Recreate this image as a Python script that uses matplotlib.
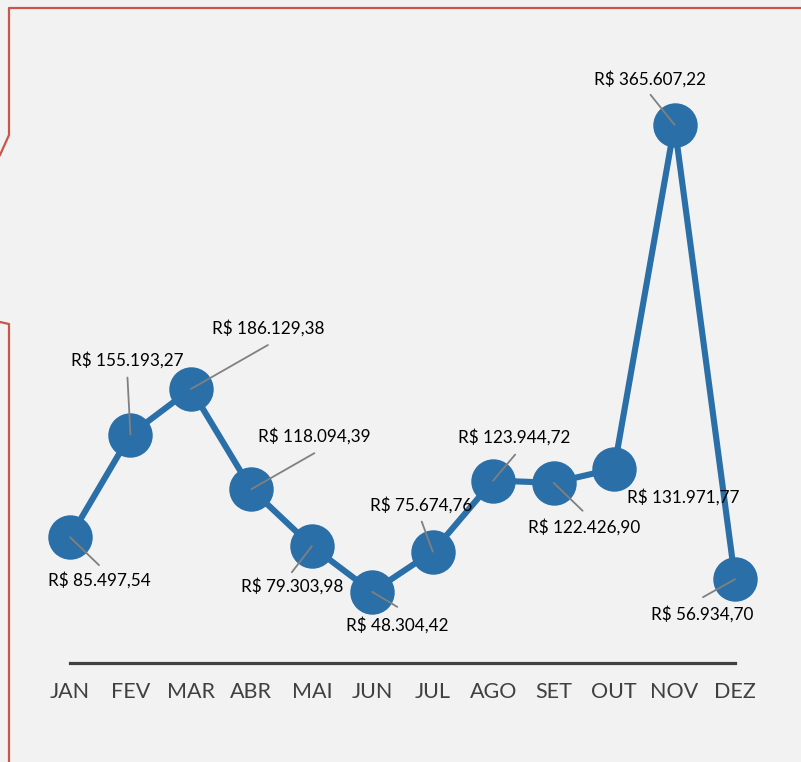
import matplotlib.pyplot as plt
from matplotlib.lines import Line2D

# dados de faturamento mensal
months = ['JAN', 'FEV', 'MAR', 'ABR', 'MAI', 'JUN', 'JUL', 'AGO', 'SET', 'OUT', 'NOV', 'DEZ']
values = [85497.54, 155193.27, 186129.38, 118094.39, 79303.98, 48304.42,
          75674.76, 123944.72, 122426.90, 131971.77, 365607.22, 56934.70]
labels = ['R$ 85.497,54', 'R$ 155.193,27', 'R$ 186.129,38', 'R$ 118.094,39',
          'R$ 79.303,98', 'R$ 48.304,42', 'R$ 75.674,76', 'R$ 123.944,72',
          'R$ 122.426,90', 'R$ 131.971,77', 'R$ 365.607,22', 'R$ 56.934,70']

# posicao dos rotulos (pixels a partir do ponto) e ponta da linha guia
text_off = [(29, -43), (-3, 74), (77, 61), (63, 53), (-20, -40), (25, -33),
            (-12, 46), (21, 43), (30, -44), (69, -28), (-25, 46), (-33, -35)]
lead_off = [(29, -28), (-3, 57), (77, 44), (63, 36), (-20, -26), (25, -15),
            (-11, 30), (22, 26), (29, -28), None, (-24, 30), (-32, -18)]

W, H = 801, 762
fig = plt.figure(figsize=(W / 100, H / 100), dpi=100)
fig.patch.set_facecolor('#f2f2f2')

# borda vermelha
red = '#c9554b'
def fx(x): return x / W
def fy(y): return 1 - y / H
fig.add_artist(Line2D([fx(801), fx(9), fx(9), fx(0)], [fy(8), fy(8), fy(135), fy(155)],
                      transform=fig.transFigure, color=red, lw=1.6))
fig.add_artist(Line2D([fx(0), fx(9), fx(9)], [fy(322), fy(324), fy(762)],
                      transform=fig.transFigure, color=red, lw=1.6))

ax = fig.add_axes([70 / W, 1 - 663 / H, 665 / W, 588.8 / H])
ax.set_facecolor('none')
x = list(range(len(months)))
ax.plot(x, values, color='#2a6fa7', lw=4.4, marker='o', markersize=32,
        markeredgewidth=0, clip_on=False, zorder=2)

ax.set_xlim(0, 11)
ax.set_ylim(0, 400000)
for s in ['top', 'right', 'left']:
    ax.spines[s].set_visible(False)
ax.spines['bottom'].set_color('#404040')
ax.spines['bottom'].set_linewidth(2.3)
ax.set_yticks([])
ax.set_xticks(x)
ax.set_xticklabels(months, fontsize=15.5, color='#404040', family='Lato')
ax.tick_params(axis='x', length=0, pad=14)

for i in x:
    if lead_off[i] is not None:
        ax.annotate('', xy=(i, values[i]), xytext=lead_off[i], textcoords='offset pixels',
                    arrowprops=dict(arrowstyle='-', color='#808080', lw=1.3,
                                    shrinkA=0, shrinkB=0), zorder=3)
    ax.annotate(labels[i], xy=(i, values[i]), xytext=text_off[i], textcoords='offset pixels',
                ha='center', va='center', fontsize=12.3, family='Lato', color='black',
                zorder=4, annotation_clip=False)

fig.savefig('out.png', dpi=100, facecolor=fig.get_facecolor())
